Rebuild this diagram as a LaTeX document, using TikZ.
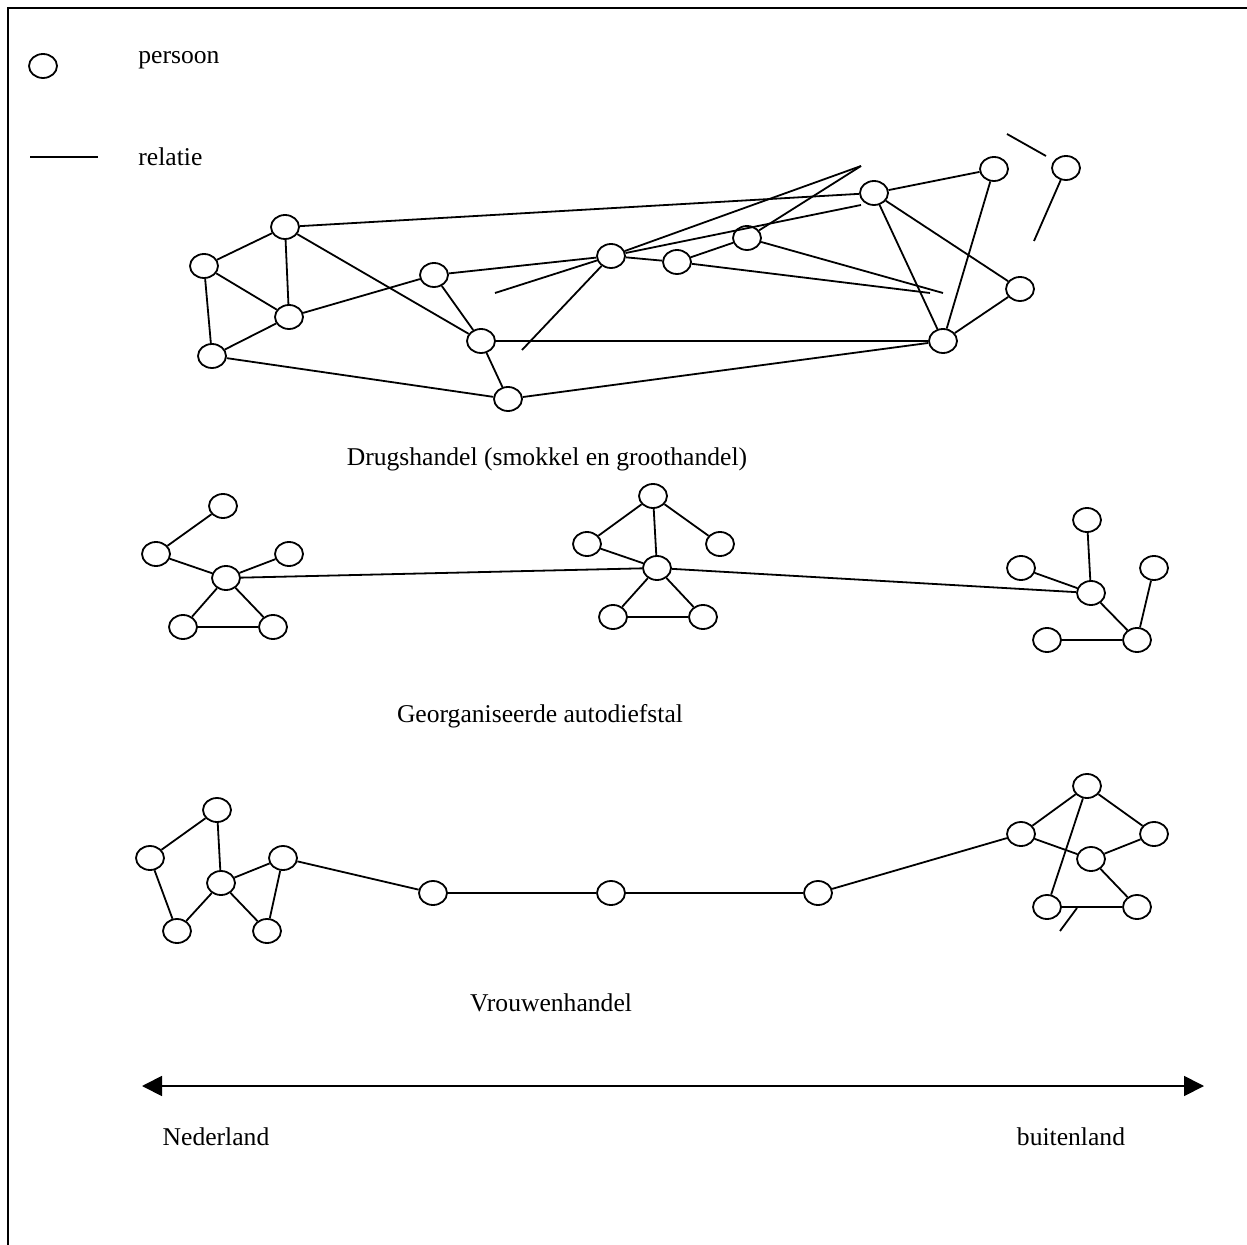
\documentclass[tikz,border=0pt]{standalone}
\usepackage{fontspec}
\setmainfont{Liberation Serif}
\usetikzlibrary{shapes.geometric,arrows.meta}
\tikzset{
  pers/.style={draw, ellipse, minimum width=14pt, minimum height=12pt, inner sep=0pt, line width=0.9pt},
  rel/.style={line width=0.9pt},
  lbl/.style={inner sep=0pt, font=\fontsize{12.8pt}{15pt}\selectfont}
}
\begin{document}
\begin{tikzpicture}[x=0.5pt,y=-0.5pt]
\useasboundingbox (0,0) rectangle (1247,1245);
% frame
\draw[line width=0.9pt] (1247,8) -- (8,8) -- (8,1245);
% legend
\node[pers] (lg) at (43,66) {};
\node[lbl,anchor=west] (lgt1) at (138,60) {persoon};
\coordinate (lla) at (30,157);
\coordinate (llb) at (98,157);
\draw[rel] (lla) -- (llb);
\node[lbl,anchor=west] (lgt2) at (138,157) {relatie};

% ---------- Drugshandel ----------
\node[pers] (A) at (204,266) {};
\node[pers] (B) at (285,227) {};
\node[pers] (C) at (289,317) {};
\node[pers] (D) at (212,356) {};
\node[pers] (E) at (434,275) {};
\node[pers] (F) at (481,341) {};
\node[pers] (G) at (508,399) {};
\node[pers] (H) at (611,256) {};
\node[pers] (I) at (677,262) {};
\node[pers] (J) at (747,238) {};
\node[pers] (K) at (874,193) {};
\node[pers] (L) at (994,169) {};
\node[pers] (M) at (1066,168) {};
\node[pers] (N) at (1020,289) {};
\node[pers] (O) at (943,341) {};
\coordinate (apx) at (861,166);
\coordinate (hk) at (861,205);
\coordinate (f1) at (495,293);
\coordinate (f2) at (522,350);
\coordinate (jx) at (943,293);
\coordinate (ix) at (930,293);
\coordinate (m1) at (1007,134);
\coordinate (m2) at (1046,156);
\coordinate (mx) at (1034,241);
\foreach \a/\b in {A/B,A/C,B/C,A/D,D/C,B/F,B/K,C/E,E/H,E/F,F/O,F/G,D/G,G/O,H/I,I/J,K/L,K/O,K/N,L/O,N/O,
  H/apx,J/apx,H/hk,f1/H,f2/H,J/jx,I/ix,m1/m2,M/mx}
  \draw[rel] (\a) -- (\b);
\node[lbl] (cap1) at (547,459) {Drugshandel (smokkel en groothandel)};

% ---------- Georganiseerde autodiefstal ----------
\node[pers] (a1) at (223,506) {};
\node[pers] (a2) at (156,554) {};
\node[pers] (a3) at (289,554) {};
\node[pers] (a4) at (226,578) {};
\node[pers] (a5) at (183,627) {};
\node[pers] (a6) at (273,627) {};
\node[pers] (b1) at (653,496) {};
\node[pers] (b2) at (587,544) {};
\node[pers] (b3) at (720,544) {};
\node[pers] (b4) at (657,568) {};
\node[pers] (b5) at (613,617) {};
\node[pers] (b6) at (703,617) {};
\node[pers] (c1) at (1087,520) {};
\node[pers] (c2) at (1021,568) {};
\node[pers] (c3) at (1154,568) {};
\node[pers] (c4) at (1091,593) {};
\node[pers] (c5) at (1047,640) {};
\node[pers] (c6) at (1137,640) {};
\foreach \a/\b in {a2/a1,a2/a4,a4/a3,a4/a5,a4/a6,a5/a6,a4/b4,b1/b2,b1/b3,b1/b4,b2/b4,b4/b5,b4/b6,b5/b6,
  b4/c4,c1/c4,c2/c4,c4/c6,c5/c6,c6/c3}
  \draw[rel] (\a) -- (\b);
\node[lbl] (cap2) at (540,716) {Georganiseerde autodiefstal};

% ---------- Vrouwenhandel ----------
\node[pers] (v1) at (217,810) {};
\node[pers] (v2) at (150,858) {};
\node[pers] (v3) at (283,858) {};
\node[pers] (v4) at (221,883) {};
\node[pers] (v5) at (177,931) {};
\node[pers] (v6) at (267,931) {};
\node[pers] (v7) at (433,893) {};
\node[pers] (v8) at (611,893) {};
\node[pers] (v9) at (818,893) {};
\node[pers] (w1) at (1087,786) {};
\node[pers] (w2) at (1021,834) {};
\node[pers] (w3) at (1154,834) {};
\node[pers] (w4) at (1091,859) {};
\node[pers] (w5) at (1047,907) {};
\node[pers] (w6) at (1137,907) {};
\coordinate (wa) at (1077,908);
\coordinate (wb) at (1060,931);
\foreach \a/\b in {v2/v1,v1/v4,v2/v5,v4/v3,v4/v5,v4/v6,v3/v6,v3/v7,v7/v8,v8/v9,v9/w2,
  w2/w1,w1/w3,w2/w4,w4/w3,w4/w6,w5/w6,w1/w5,wa/wb}
  \draw[rel] (\a) -- (\b);
\node[lbl] (cap3) at (551,1003) {Vrouwenhandel};

% ---------- axis ----------
\coordinate (axl) at (142,1086);
\coordinate (axr) at (1204,1086);
\draw[line width=0.9pt, {Triangle[length=10pt,width=10pt]}-{Triangle[length=10pt,width=10pt]}] (axl) -- (axr);
\node[lbl] (nl) at (216,1137) {Nederland};
\node[lbl] (bl) at (1071,1137) {buitenland};
\end{tikzpicture}
\end{document}
